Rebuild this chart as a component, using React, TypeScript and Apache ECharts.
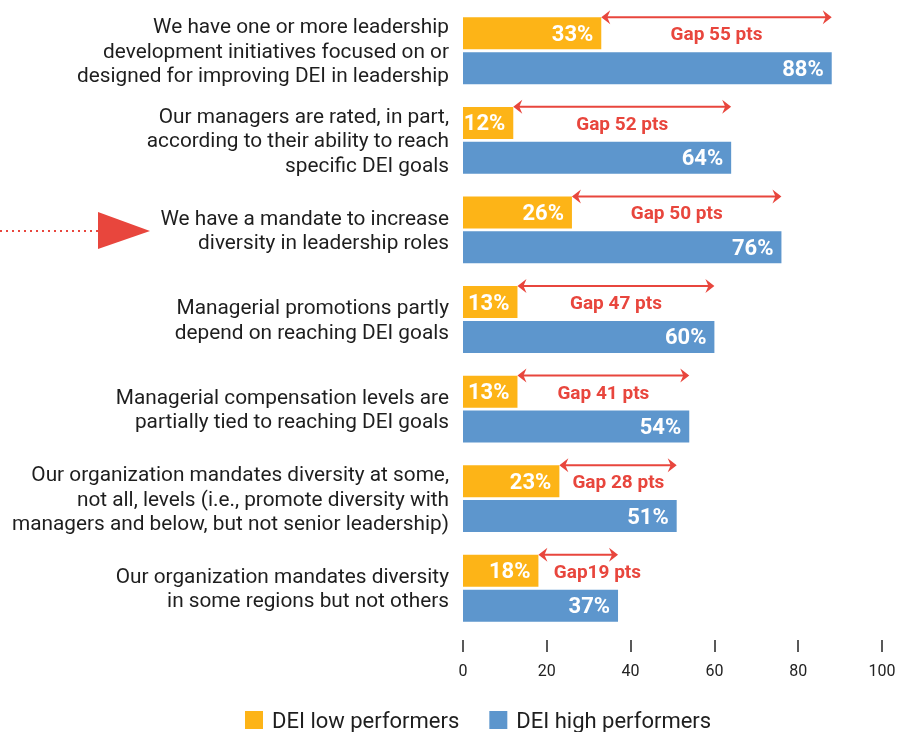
import React, { useEffect, useRef } from "react";
import * as echarts from "echarts";

const categories = [
  "We have one or more leadership\ndevelopment initiatives focused on or\ndesigned for improving DEI in leadership",
  "Our managers are rated, in part,\naccording to their ability to reach\nspecific DEI goals",
  "We have a mandate to increase\ndiversity in leadership roles",
  "Managerial promotions partly\ndepend on reaching DEI goals",
  "Managerial compensation levels are\npartially tied to reaching DEI goals",
  "Our organization mandates diversity at some,\nnot all, levels (i.e., promote diversity with\nmanagers and below, but not senior leadership)",
  "Our organization mandates diversity\nin some regions but not others",
];
const lowPerformers = [33, 12, 26, 13, 13, 23, 18];
const highPerformers = [88, 64, 76, 60, 54, 51, 37];
const gapLabels = ["Gap 55 pts", "Gap 52 pts", "Gap 50 pts", "Gap 47 pts", "Gap 41 pts", "Gap 28 pts", "Gap19 pts"];
const xTicks = { min: 0, max: 100, interval: 20 };
const seriesNames = ["DEI low performers", "DEI high performers"];

const YELLOW = "#FDB417";
const BLUE = "#5D96CD";
const RED = "#E8463D";
const FONT = "Roboto";

export default function App() {
  const ref = useRef<HTMLDivElement>(null);
  useEffect(() => {
    const chart = echarts.init(ref.current!, null, { renderer: "svg" });
    const gapData = categories.map((_, i) => [i, lowPerformers[i], highPerformers[i]]);
    chart.setOption({
      animation: false,
      textStyle: { fontFamily: FONT },
      grid: { left: 463, right: 18, top: 6, bottom: 99, containLabel: false },
      xAxis: {
        type: "value",
        min: xTicks.min,
        max: xTicks.max,
        interval: xTicks.interval,
        offset: 7,
        axisLine: { show: false },
        axisTick: { show: true, length: 12, lineStyle: { color: "#222", width: 1.5 } },
        splitLine: { show: false },
        axisLabel: { fontSize: 16, color: "#222", margin: 22, fontFamily: FONT },
      },
      yAxis: {
        type: "category",
        inverse: true,
        data: categories,
        axisLine: { show: false },
        axisTick: { show: false },
        axisLabel: { fontSize: 20.8, color: "#1e1e1e", lineHeight: 24.5, margin: 14, align: "right", fontFamily: FONT },
      },
      legend: {
        data: seriesNames,
        left: 245,
        top: 709,
        padding: 0,
        icon: "rect",
        itemWidth: 18,
        itemHeight: 18,
        itemGap: 30,
        textStyle: { fontSize: 22, color: "#1e1e1e", fontFamily: FONT, padding: [0, 0, 0, 4] },
      },
      series: [
        {
          name: seriesNames[0],
          type: "bar",
          data: lowPerformers,
          barWidth: 32,
          barGap: "9%",
          itemStyle: { color: YELLOW },
          label: {
            show: true,
            position: "insideRight",
            distance: 8,
            formatter: "{c}%",
            color: "#fff",
            fontWeight: "bold",
            fontSize: 22,
            fontFamily: FONT,
          },
        },
        {
          name: seriesNames[1],
          type: "bar",
          data: highPerformers,
          barWidth: 32,
          barGap: "9%",
          itemStyle: { color: BLUE },
          label: {
            show: true,
            position: "insideRight",
            distance: 8,
            formatter: "{c}%",
            color: "#fff",
            fontWeight: "bold",
            fontSize: 22,
            fontFamily: FONT,
          },
        },
        {
          type: "custom",
          data: gapData,
          encode: { x: [1, 2], y: 0 },
          clip: false,
          z: 10,
          silent: true,
          renderItem: (params: any, api: any) => {
            const idx = api.value(0);
            const lo = api.coord([api.value(1), idx]);
            const hi = api.coord([api.value(2), idx]);
            const y = lo[1] - 33.5;
            const x1 = lo[0];
            const x2 = hi[0];
            const head = 9;
            const hw = 7;
            const textW = 90;
            const mid = (x1 + x2) / 2;
            const tx = Math.max(mid, x1 + 14 + textW / 2);
            return {
              type: "group",
              children: [
                {
                  type: "line",
                  shape: { x1: x1 + 2, y1: y, x2: x2 - 2, y2: y },
                  style: { stroke: RED, lineWidth: 2 },
                },
                {
                  type: "polygon",
                  shape: { points: [[x1, y], [x1 + head, y - hw], [x1 + head - 3, y], [x1 + head, y + hw]] },
                  style: { fill: RED },
                },
                {
                  type: "polygon",
                  shape: { points: [[x2, y], [x2 - head, y - hw], [x2 - head + 3, y], [x2 - head, y + hw]] },
                  style: { fill: RED },
                },
                {
                  type: "text",
                  x: tx,
                  y: y + 16.5,
                  style: {
                    text: gapLabels[params.dataIndex],
                    fill: RED,
                    font: `bold 19px ${FONT}`,
                    textAlign: "center",
                    textVerticalAlign: "middle",
                  },
                },
              ],
            };
          },
        },
      ],
      graphic: [
        {
          type: "line",
          shape: { x1: 0, y1: 231, x2: 98, y2: 231 },
          style: { stroke: RED, lineWidth: 2, lineDash: [2, 4] },
        },
        {
          type: "polygon",
          shape: { points: [[98, 212], [150, 231], [98, 249]] },
          style: { fill: RED },
        },
      ],
    });
    return () => chart.dispose();
  }, []);
  return <div ref={ref} style={{ position: "fixed", left: 0, top: 0, width: 900, height: 732 }} />;
}
